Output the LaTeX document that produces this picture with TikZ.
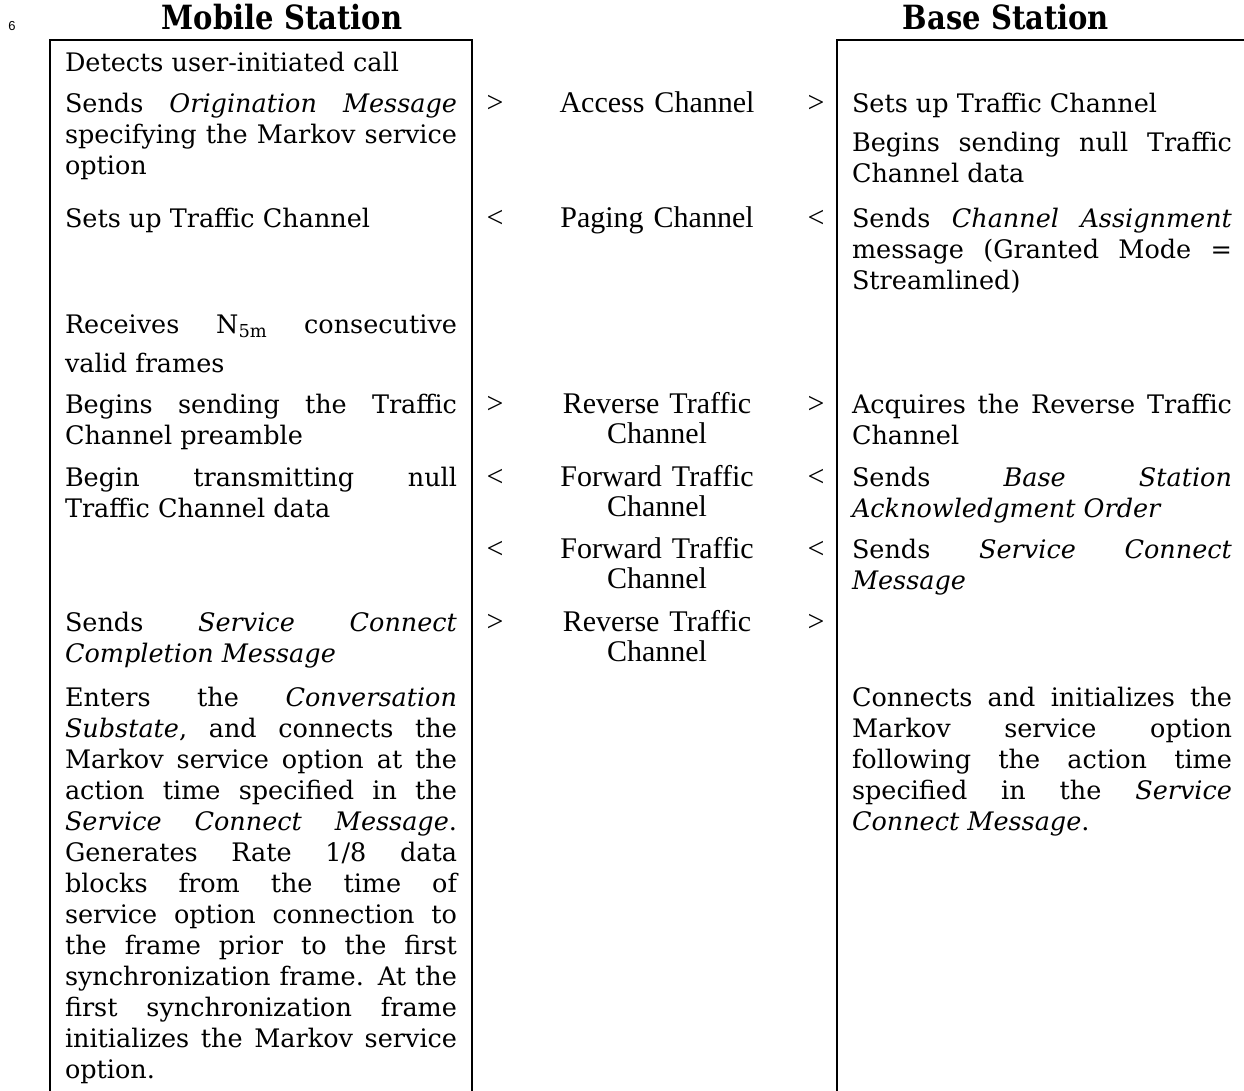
\documentclass[tikz,border=0pt]{standalone}
\usepackage{fontspec}
\usepackage{graphicx}
\setmainfont{DejaVu Serif}
\newfontfamily\chfont{Liberation Serif}
\newfontfamily\numfont{Liberation Sans}
\tolerance=10000
\hbadness=10000
\hyphenpenalty=10000
\exhyphenpenalty=10000
\begin{document}
\begin{tikzpicture}[x=1pt,y=-1pt,
  side/.style={anchor=base west, inner sep=0pt, outer sep=0pt, align=justify,
    font=\fontsize{25.5}{31}\selectfont},
  lcol/.style={side, text width=392pt},
  rcol/.style={side, text width=380pt},
  chan/.style={anchor=base, inner sep=0pt, outer sep=0pt, align=center, text width=240pt,
    font=\chfont\fontsize{30}{30}\selectfont},
  dirmark/.style={anchor=base, inner sep=0pt, outer sep=0pt,
    font=\chfont\fontsize{30}{30}\selectfont},
  head/.style={anchor=base, inner sep=0pt, outer sep=0pt,
    font=\fontsize{29}{30}\selectfont\bfseries},
  frame/.style={line width=1.8pt, line cap=rect}
]
\useasboundingbox (0,0) rectangle (1244,1091);

% page number
\node[anchor=base, inner sep=0pt, font=\numfont\fontsize{13}{14}\selectfont] (pg) at (12,31) {6};

% headings
\node[head] (hms) at (282,30) {\scalebox{1}[1.15]{Mobile Station}};
\node[head] (hbs) at (1006,30) {\scalebox{1}[1.15]{Base Station}};

% frames
\coordinate (ltl) at (50,40);
\coordinate (ltr) at (472,40);
\coordinate (lbl) at (50,1091);
\coordinate (lbr) at (472,1091);
\coordinate (rtl) at (837,40);
\coordinate (rtr) at (1244,40);
\coordinate (rbl) at (837,1091);
\draw[frame] (lbl) -- (ltl) -- (ltr) -- (lbr);
\draw[frame] (rbl) -- (rtl) -- (rtr);

% left column
\node[lcol] (l1) at (65,72) {Detects user-initiated call};
\node[lcol] (l2) at (65,113) {Sends \textit{Origination Message}\linebreak
  specifying the Markov service\linebreak option};
\node[lcol] (l3) at (65,228) {Sets up Traffic Channel};
\node[lcol] (l4) at (65,333) {Receives N\textsubscript{5m} consecutive\vadjust{\vskip 8pt}\linebreak valid frames};
\node[lcol] (l5) at (65,413) {Begins sending the Traffic\linebreak Channel preamble};
\node[lcol] (l6) at (65,486) {Begin transmitting null\linebreak Traffic Channel data};
\node[lcol] (l7) at (65,631) {Sends \textit{Service Connect}\linebreak \textit{Completion Message}};
\node[lcol] (l8) at (65,706) {Enters the \textit{Conversation}\linebreak
  \textit{Substate},\ and connects the\linebreak
  Markov service option at the\linebreak
  action time specified in the\linebreak
  \textit{Service Connect Message}.\linebreak
  Generates Rate 1/8 data\linebreak
  blocks from the time of\linebreak
  service option connection to\linebreak
  the frame prior to the first\linebreak
  synchronization frame. At the\linebreak
  first synchronization frame\linebreak
  initializes the Markov service\linebreak
  option.};

% middle column
\node[dirmark] (d1a) at (495,113) {>};
\node[chan] (c1) at (657,113) {Access Channel};
\node[dirmark] (d1b) at (816,113) {>};

\node[dirmark] (d2a) at (495,228) {<};
\node[chan] (c2) at (657,228) {Paging Channel};
\node[dirmark] (d2b) at (816,228) {<};

\node[dirmark] (d3a) at (495,413) {>};
\node[chan] (c3) at (657,413) {Reverse Traffic\\Channel};
\node[dirmark] (d3b) at (816,413) {>};

\node[dirmark] (d4a) at (495,486) {<};
\node[chan] (c4) at (657,486) {Forward Traffic\\Channel};
\node[dirmark] (d4b) at (816,486) {<};

\node[dirmark] (d5a) at (495,558) {<};
\node[chan] (c5) at (657,558) {Forward Traffic\\Channel};
\node[dirmark] (d5b) at (816,558) {<};

\node[dirmark] (d6a) at (495,631) {>};
\node[chan] (c6) at (657,631) {Reverse Traffic\\Channel};
\node[dirmark] (d6b) at (816,631) {>};

% right column
\node[rcol] (r1) at (852,113) {Sets up Traffic Channel};
\node[rcol] (r2) at (852,152) {Begins sending null Traffic\linebreak Channel data};
\node[rcol] (r3) at (852,228) {Sends \textit{Channel Assignment}\linebreak
  message (Granted Mode =\linebreak Streamlined)};
\node[rcol] (r4) at (852,413) {Acquires the Reverse Traffic\linebreak Channel};
\node[rcol] (r5) at (852,486) {Sends \textit{Base Station}\linebreak \textit{Acknowledgment Order}};
\node[rcol] (r6) at (852,558) {Sends \textit{Service Connect}\linebreak \textit{Message}};
\node[rcol] (r7) at (852,706) {Connects and initializes the\linebreak
  Markov service option\linebreak
  following the action time\linebreak
  specified in the \textit{Service}\linebreak
  \textit{Connect Message}.};
\end{tikzpicture}
\end{document}
